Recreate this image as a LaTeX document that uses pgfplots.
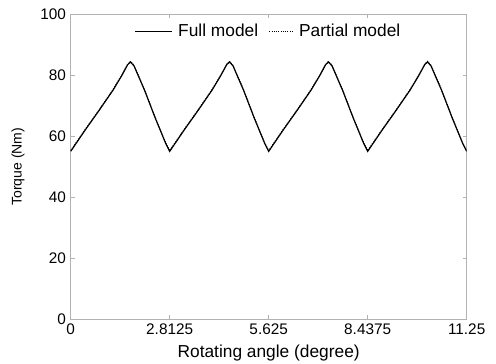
\documentclass[border=0pt]{standalone}
\usepackage{pgfplots}
\pgfplotsset{compat=1.18}
\usetikzlibrary{calc}
\usepackage{fontspec}
\setmainfont{Liberation Sans}
\pgfplotsset{
  leglong/.style={legend image code/.code={\draw[##1] (0pt,0pt) -- (28pt,0pt);}},
  legshort/.style={legend image code/.code={\draw[##1] (0pt,0pt) -- (18pt,0pt);}},
}
\begin{document}
\begin{tikzpicture}
\begin{axis}[
  scale only axis,
  width=297pt, height=229pt,
  xmin=0, xmax=11.25, ymin=0, ymax=100,
  xtick={0,2.8125,5.625,8.4375,11.25},
  xticklabels={0,2.8125,5.625,8.4375,11.25},
  ytick={0,20,40,60,80,100},
  /pgf/number format/assume math mode=true,
  tick label style={font=\fontsize{11.5}{13}\selectfont},
  xlabel style={font=\fontsize{13}{15}\selectfont, yshift=-1pt},
  ylabel style={font=\fontsize{10.5}{12}\selectfont, yshift=5pt},
  xlabel={Rotating angle (degree)},
  ylabel={Torque (Nm)},
  axis line style={gray!60, thin},
  tick style={gray!60, thin},
  tick align=inside,
  major tick length=3pt,
  legend style={draw=none, fill=none, at={(0.5,0.985)}, anchor=north,
    font=\fontsize{13}{15}\selectfont, legend columns=2,
    /tikz/every even column/.append style={column sep=6pt},
    /tikz/every odd column/.append style={column sep=2pt}},
  legend cell align=left,
]
\addplot[black, line width=0.9pt, leglong] coordinates {
(0,55) (0.4,61.8) (0.8,68.3) (1.2,75) (1.45,79.8) (1.62,83.4) (1.7,84.3) (1.8,83) (2.1,75) (2.4,66) (2.7,57.6) (2.8125,55)
(3.2125,61.8) (3.6125,68.3) (4.0125,75) (4.2625,79.8) (4.4325,83.4) (4.5125,84.3) (4.6125,83) (4.9125,75) (5.2125,66) (5.5125,57.6) (5.625,55)
(6.025,61.8) (6.425,68.3) (6.825,75) (7.075,79.8) (7.245,83.4) (7.325,84.3) (7.425,83) (7.725,75) (8.025,66) (8.325,57.6) (8.4375,55)
(8.8375,61.8) (9.2375,68.3) (9.6375,75) (9.8875,79.8) (10.0575,83.4) (10.1375,84.3) (10.2375,83) (10.5375,75) (10.8375,66) (11.1375,57.6) (11.25,55)
};
\addlegendentry{Full model}
\addplot[black, densely dotted, line width=0.7pt, legshort] coordinates {
(0,55.3) (0.4,62) (0.8,68.5) (1.2,75.2) (1.45,80) (1.62,83.6) (1.7,84.5) (1.8,83.2) (2.1,75.2) (2.4,66.2) (2.7,57.8) (2.8125,55.3)
(3.2125,62) (3.6125,68.5) (4.0125,75.2) (4.2625,80) (4.4325,83.6) (4.5125,84.5) (4.6125,83.2) (4.9125,75.2) (5.2125,66.2) (5.5125,57.8) (5.625,55.3)
(6.025,62) (6.425,68.5) (6.825,75.2) (7.075,80) (7.245,83.6) (7.325,84.5) (7.425,83.2) (7.725,75.2) (8.025,66.2) (8.325,57.8) (8.4375,55.3)
(8.8375,62) (9.2375,68.5) (9.6375,75.2) (9.8875,80) (10.0575,83.6) (10.1375,84.5) (10.2375,83.2) (10.5375,75.2) (10.8375,66.2) (11.1375,57.8) (11.25,55.3)
};
\addlegendentry{Partial model}
\end{axis}
\pgfresetboundingbox
\path ($(current axis.south west)+(-53pt,-33pt)$) rectangle ($(current axis.north east)+(22pt,10.5pt)$);
\end{tikzpicture}
\end{document}
